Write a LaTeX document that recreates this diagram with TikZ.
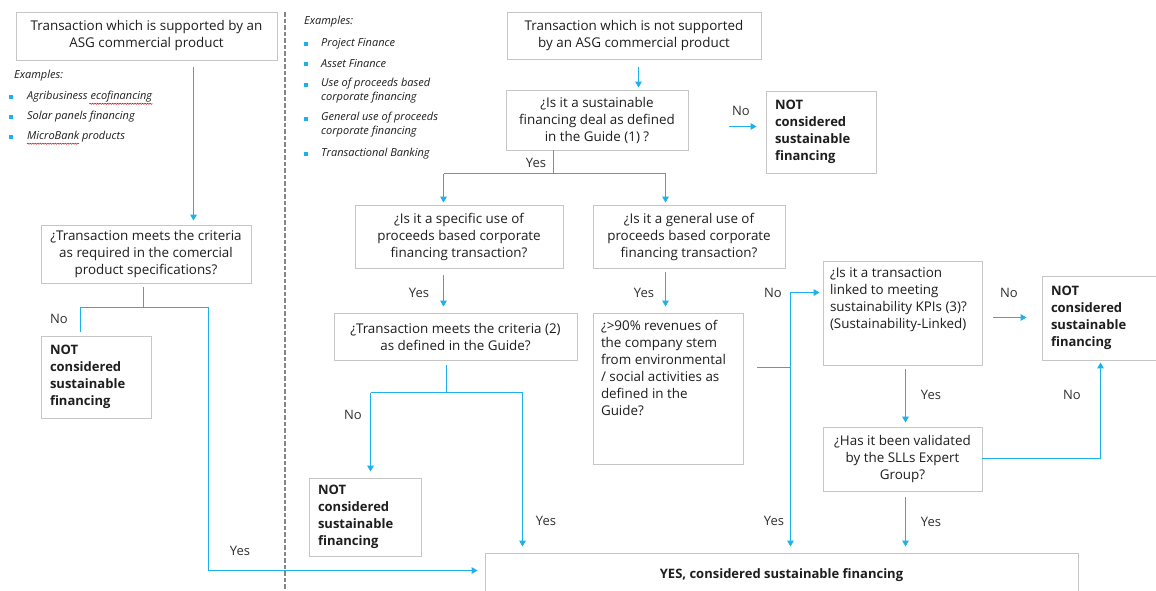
\documentclass[tikz,border=0pt]{standalone}
\usepackage{fontspec}
\setmainfont{Open Sans}
\usetikzlibrary{arrows.meta,decorations.pathmorphing}
\definecolor{flowc}{HTML}{1CB0EC}
\definecolor{boxc}{HTML}{C6C6C6}
\definecolor{txtc}{HTML}{1E1E1E}
\definecolor{labc}{HTML}{303030}
\definecolor{sepc}{HTML}{858585}
\begin{document}
\begin{tikzpicture}[x=1pt,y=-1pt,
  box/.style={draw=boxc, line width=0.9pt, inner sep=0pt, align=center, text=txtc, font=\fontsize{13.4}{17}\selectfont},
  lbox/.style={box, align=left, inner xsep=9pt, font=\fontsize{13}{17}\selectfont\bfseries},
  fline/.style={draw=flowc, line width=1.3pt},
  arr/.style={fline, -{Triangle[width=6.5pt,length=6pt]}},
  lab/.style={text=labc, font=\fontsize{13}{15}\selectfont, inner sep=0pt},
  ex/.style={font=\fontsize{11}{14}\selectfont\itshape, text=txtc, inner sep=0pt, anchor=west, align=left},
  bul/.style={fill=flowc, minimum size=4.5pt, inner sep=0pt},
  squig/.style={draw=red!85!black, line width=0.5pt, decorate, decoration={snake, amplitude=0.6pt, segment length=2.5pt}},
]
\clip (0,0) rectangle (1156,590);
\fill[white] (0,0) rectangle (1156,590);

% ---------- left column ----------
\node[box, minimum width=261pt, minimum height=48pt] (b1) at (146.5,36) {Transaction which is supported by an\\ASG commercial product};
\node[ex] (exl) at (14,76) {Examples:};
\node[bul] (bl1) at (11,97) {};
\node[ex] (el1) at (27,97) {Agribusiness ecofinancing};
\node[bul] (bl2) at (11,117) {};
\node[ex] (el2) at (27,117) {Solar panels financing};
\node[bul] (bl3) at (11,137) {};
\node[ex] (el3) at (27,137) {MicroBank products};
\draw[squig] ([xshift=-63pt,yshift=-1pt]el1.south east) -- ([yshift=-1pt]el1.south east);
\draw[squig] ([yshift=-1pt]el3.south west) -- ([xshift=52pt,yshift=-1pt]el3.south west);

\node[box, minimum width=210pt, minimum height=58pt] (b2) at (146,254) {¿Transaction meets the criteria\\as required in the comercial\\product specifications?};
\node[lbox, text width=92pt, minimum height=82pt] (b3) at (96,377) {NOT\\considered\\sustainable\\financing};

% separator
\draw[sepc, line width=2pt, dash pattern=on 4.5pt off 2pt] (284.5,12) -- (284.5,590);

% ---------- right column ----------
\node[ex] (exr) at (304,22) {Examples:};
\node[bul] (br1) at (306,44) {};
\node[ex] (er1) at (321,44) {Project Finance};
\node[bul] (br2) at (306,64) {};
\node[ex] (er2) at (321,64) {Asset Finance};
\node[bul] (br3) at (306,85) {};
\node[ex, anchor=north west] (er3) at (321,78) {Use of proceeds based\\corporate financing};
\node[bul] (br4) at (306,119) {};
\node[ex, anchor=north west] (er4) at (321,112) {General use of proceeds\\corporate financing};
\node[bul] (br5) at (306,154) {};
\node[ex] (er5) at (321,154) {Transactional Banking};

\node[box, minimum width=254pt, minimum height=47pt] (b4) at (634,35.5) {Transaction which is not supported\\by an ASG commercial product};
\node[box, minimum width=182pt, minimum height=60pt] (b5) at (597,120) {¿Is it a sustainable\\financing deal as defined\\in the Guide (1) ?};
\node[lbox, text width=92pt, minimum height=82pt] (b6) at (821,132) {NOT\\considered\\sustainable\\financing};
\node[box, minimum width=208pt, minimum height=63pt] (b7) at (459,236.5) {¿Is it a specific use of\\proceeds based corporate\\financing transaction?};
\node[box, minimum width=192pt, minimum height=63pt] (b8) at (689,236.5) {¿Is it a general use of\\proceeds based corporate\\financing transaction?};
\node[box, minimum width=243pt, minimum height=47pt] (b9) at (455.5,336.5) {¿Transaction meets the criteria (2)\\as defined in the Guide?};
\node[box, minimum width=150pt, minimum height=151pt] (b10) at (668,388.5) {\begin{minipage}[c][137pt][t]{134pt}\raggedright ¿>90\% revenues of\\the company stem\\from environmental\\/ social activities as\\defined in the\\Guide?\end{minipage}};
\node[lbox, text width=94pt, minimum height=78pt] (b11) at (365,517) {NOT\\considered\\sustainable\\financing};
\node[box, minimum width=159pt, minimum height=104pt] (b12) at (902.5,313) {\begin{minipage}[c][90pt][t]{145pt}\raggedright ¿Is it a transaction\\linked to meeting\\sustainability KPIs (3)?\\(Sustainability-Linked)\end{minipage}};
\node[lbox, text width=100pt, minimum height=84pt] (b13) at (1101,318) {NOT\\considered\\sustainable\\financing};
\node[box, minimum width=159pt, minimum height=64pt] (b14) at (902.5,459) {¿Has it been validated\\by the SLLs Expert\\Group?};
\node[box, minimum width=593pt, minimum height=44pt, font=\fontsize{13}{17}\selectfont\bfseries] (b15) at (781.5,575) {YES, considered sustainable financing};

% ---------- connectors: left ----------
\coordinate (c1) at (193.5,0);
\draw[arr, shorten <=7pt, shorten >=4pt] (b1.south -| c1) -- (b2.north -| c1);
\coordinate (j1) at (143.5,307.5);
\coordinate (jl) at (80.5,307.5);
\coordinate (jr) at (208.5,307.5);
\coordinate (jy) at (208.5,570.5);
\draw[fline, shorten <=4pt] (b2.south -| j1) -- (j1);
\draw[fline, shorten >=4pt] (jr) -- (jl) -- (jl |- b3.north);
\draw[arr, shorten >=7pt] (jr) -- (jy) -- (b15.west |- jy);
\node[lab] (lno1) at (59,319) {No};
\node[lab] (lyes1) at (240,551) {Yes};

% ---------- connectors: right ----------
\coordinate (c2) at (638.5,0);
\draw[arr, shorten <=8pt, shorten >=2pt] (b4.south -| c2) -- (b5.north -| c2);
\coordinate (n1) at (729,126.5);
\draw[arr, shorten >=9pt] (n1) -- (b6.west |- n1);
\node[lab] (lno2) at (741,111) {No};

\coordinate (j2) at (553.5,173.5);
\coordinate (j2l) at (443.5,173.5);
\coordinate (j2r) at (665.5,173.5);
\draw[fline] (b5.south -| j2) -- (j2);
\draw[fline] (j2l) -- (j2r);
\draw[arr, shorten >=2pt] (j2l) -- (b7.north -| j2l);
\draw[arr, shorten >=2pt] (j2r) -- (b8.north -| j2r);
\node[lab] (lyes2) at (536,163) {Yes};

\coordinate (c3) at (443.5,0);
\draw[arr, shorten <=7pt, shorten >=6pt] (b7.south -| c3) -- (b9.north -| c3);
\node[lab] (lyes3) at (419,293) {Yes};
\coordinate (c4) at (665.5,0);
\draw[arr, shorten <=4pt, shorten >=6pt] (b8.south -| c4) -- (b10.north -| c4);
\node[lab] (lyes4) at (644,293) {Yes};

\coordinate (j3) at (446.5,392.5);
\coordinate (j3l) at (370.5,392.5);
\coordinate (j3r) at (522.5,392.5);
\draw[fline, shorten <=5pt] (b9.south -| j3) -- (j3);
\draw[fline] (j3l) -- (j3r);
\draw[arr, shorten >=6pt] (j3l) -- (b11.north -| j3l);
\draw[arr, shorten >=6pt] (j3r) -- (b15.north -| j3r);
\node[lab] (lno3) at (353,415) {No};
\node[lab] (lyes5) at (546,521) {Yes};

\coordinate (j4) at (790.5,367.5);
\coordinate (j4t) at (790.5,292.5);
\draw[fline, shorten <=14pt] (b10.east |- j4) -- (j4);
\draw[arr, shorten >=3pt] (j4) -- (j4t) -- (b12.west |- j4t);
\draw[arr, shorten >=6pt] (j4) -- (b15.north -| j4);
\node[lab] (lno4) at (773,293) {No};
\node[lab] (lyes6) at (774,521) {Yes};

\coordinate (n2) at (993,317.5);
\draw[arr, shorten <=11pt, shorten >=15pt] (b12.east |- n2) -- (b13.west |- n2);
\node[lab] (lno5) at (1009,293) {No};
\coordinate (c5) at (905.5,0);
\draw[arr, shorten <=4pt, shorten >=4pt] (b12.south -| c5) -- (b14.north -| c5);
\node[lab] (lyes7) at (931,395) {Yes};
\coordinate (j5) at (1100.5,458.5);
\draw[arr, shorten >=2pt] (b14.east |- j5) -- (j5) -- (b13.south -| j5);
\node[lab] (lno6) at (1072,395) {No};
\draw[arr, shorten <=6pt, shorten >=6pt] (b14.south -| c5) -- (b15.north -| c5);
\node[lab] (lyes8) at (931,522) {Yes};
\end{tikzpicture}
\end{document}
